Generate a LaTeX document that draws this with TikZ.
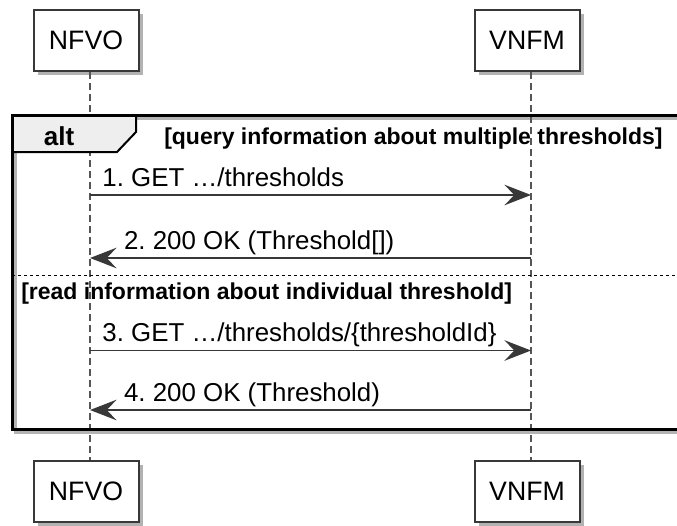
\documentclass[tikz,border=0pt]{standalone}
\usepackage{fontspec}
\setmainfont{Liberation Sans}
\usetikzlibrary{arrows.meta,shadows}
\definecolor{linegray}{HTML}{383838}
\definecolor{tabgray}{HTML}{EEEEEE}
\definecolor{shadegray}{HTML}{B4B4B4}
\frenchspacing

\begin{document}
\begin{tikzpicture}[x=0.75pt,y=-0.75pt,>=Stealth,
  actor/.style={draw=linegray,line width=1.5pt,fill=white,minimum width=78.75pt,minimum height=45.75pt,inner sep=0pt,
    font=\fontsize{20}{24}\selectfont,drop shadow={shadow xshift=3pt,shadow yshift=-3pt,fill=black,opacity=.3}},
  lifeline/.style={draw=linegray!85,line width=0.9pt,dash pattern=on 5.25pt off 3pt},
  msg/.style={draw=linegray,line width=1.1pt,-{Stealth[length=20pt,width=15.5pt,inset=7.5pt]}},
  msglabel/.style={inner sep=0pt,anchor=base west,font=\fontsize{19.4}{23}\selectfont},
  guard/.style={inner sep=0pt,anchor=base west,font=\fontsize{17.25}{20}\selectfont\bfseries}]
  \useasboundingbox (0,0) rectangle (677,525);

  % participants
  \node[actor] (nfvoTop) at (86,40.5) {NFVO};
  \node[actor] (vnfmTop) at (527,40.5) {VNFM};
  \node[actor] (nfvoBot) at (86,491) {NFVO};
  \node[actor] (vnfmBot) at (527,491) {VNFM};

  % alt frame shadow and guards
  \draw[shadegray,line width=2.25pt] (15,118) rectangle (700,432);
  \node[guard] (guardQuery) at (164,144) {[query information about multiple thresholds]};
  \node[guard] (guardRead) at (21,299.5) {[read information about individual threshold]};

  % lifelines
  \draw[lifeline] ([xshift=3pt]nfvoTop.south) -- ([xshift=3pt]nfvoBot.north);
  \draw[lifeline] ([xshift=3pt]vnfmTop.south) -- ([xshift=3pt]vnfmBot.north);

  % alt frame
  \draw[fill=tabgray,line width=1.5pt] (12,115) -- (136,115) -- (136,132) -- (117,152) -- (12,152) -- cycle;
  \draw[line width=2.25pt] (12,115) rectangle (700,429);
  \node[anchor=base,inner sep=0pt,font=\fontsize{19.5}{23}\selectfont\bfseries] (altTag) at (59,145) {alt};
  \draw[line width=0.75pt,dash pattern=on 2.25pt off 2.25pt] (12,275) -- (700,275);

  % messages
  \coordinate (n1) at (90,195);   \coordinate (v1) at (531,195);
  \coordinate (n2) at (90,258);   \coordinate (v2) at (531,258);
  \coordinate (n3) at (90,350.5); \coordinate (v3) at (531,350.5);
  \coordinate (n4) at (90,410);   \coordinate (v4) at (531,410);
  \draw[msg] (n1) -- (v1) node[msglabel,at start,xshift=8.8pt,yshift=6.4pt] {1. GET …/thresholds};
  \draw[msg] (v2) -- (n2) node[msglabel,at end,xshift=25pt,yshift=6.4pt] {2. 200 OK (Threshold[])};
  \draw[msg] (n3) -- (v3) node[msglabel,at start,xshift=8.8pt,yshift=6.4pt] {3. GET …/thresholds/\{thresholdId\}};
  \draw[msg] (v4) -- (n4) node[msglabel,at end,xshift=25pt,yshift=6.4pt] {4. 200 OK (Threshold)};
\end{tikzpicture}
\end{document}
